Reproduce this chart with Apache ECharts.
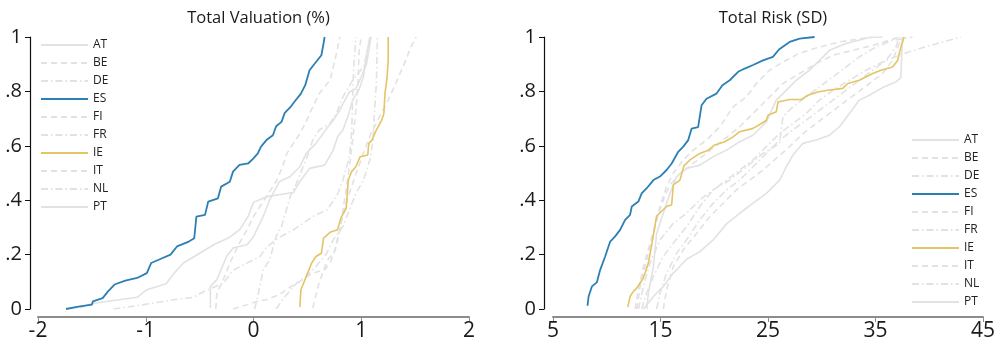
<!DOCTYPE html>
<html>
<head>
<meta charset="utf-8">
<script src="https://cdn.jsdelivr.net/npm/echarts@6/dist/echarts.min.js"></script>
<style>
  html, body { margin: 0; padding: 0; background: #fff; }
  #chart { width: 998px; height: 342px; }
</style>
</head>
<body>
<div id="chart"></div>
<script>
// Empirical distribution curves by country: [value, cumulative share]
const countries = ['AT', 'BE', 'DE', 'ES', 'FI', 'FR', 'IE', 'IT', 'NL', 'PT'];
const yTicks = [0, 0.2, 0.4, 0.6, 0.8, 1];
const valTicks = [-2, -1, 0, 1, 2];
const riskTicks = [5, 15, 25, 35, 45];

// Total valuation (%)
const valAT = [[-1.61,0.004],[-1.50,0.02],[-1.08,0.043],[-0.99,0.071],[-0.81,0.093],[-0.74,0.13],[-0.65,0.169],[-0.50,0.205],[-0.37,0.236],[-0.22,0.264],[-0.13,0.291],[-0.05,0.34],[0.00,0.392],[0.12,0.413],[0.37,0.428],[0.43,0.468],[0.52,0.517],[0.66,0.529],[0.74,0.584],[0.78,0.633],[0.83,0.658],[0.88,0.713],[0.92,0.768],[0.98,0.807],[1.02,0.853],[1.05,0.939],[1.08,1.0]];
const valBE = [[-0.35,0],[-0.34,0.059],[-0.28,0.108],[-0.22,0.169],[-0.13,0.242],[-0.06,0.291],[0.00,0.34],[0.06,0.377],[0.12,0.413],[0.21,0.468],[0.27,0.523],[0.31,0.572],[0.37,0.609],[0.43,0.645],[0.48,0.682],[0.55,0.743],[0.61,0.792],[0.71,0.841],[0.74,0.89],[0.77,0.939],[0.80,1.0]];
const valDE = [[-1.30,0],[-1.02,0.016],[-0.74,0.034],[-0.56,0.043],[-0.44,0.068],[-0.28,0.095],[-0.19,0.142],[-0.06,0.169],[0.06,0.193],[0.12,0.227],[0.24,0.264],[0.37,0.291],[0.46,0.315],[0.55,0.34],[0.68,0.364],[0.77,0.413],[0.83,0.474],[0.89,0.56],[0.91,0.645],[0.92,0.768],[0.93,0.89],[0.95,1.0]];
const valES = [[-1.74,0],[-1.61,0.01],[-1.50,0.016],[-1.49,0.028],[-1.40,0.04],[-1.35,0.065],[-1.29,0.09],[-1.19,0.104],[-1.08,0.114],[-0.99,0.132],[-0.95,0.169],[-0.88,0.181],[-0.77,0.2],[-0.71,0.23],[-0.60,0.248],[-0.55,0.26],[-0.53,0.34],[-0.45,0.346],[-0.42,0.395],[-0.33,0.407],[-0.30,0.45],[-0.22,0.468],[-0.19,0.505],[-0.13,0.53],[-0.05,0.535],[0.00,0.554],[0.04,0.572],[0.07,0.597],[0.12,0.621],[0.18,0.639],[0.21,0.672],[0.26,0.688],[0.29,0.721],[0.34,0.741],[0.38,0.762],[0.44,0.792],[0.48,0.823],[0.52,0.878],[0.58,0.908],[0.63,0.933],[0.65,0.976],[0.66,1.0]];
const valFI = [[-0.19,0],[-0.06,0.016],[0.03,0.028],[0.12,0.034],[0.24,0.053],[0.34,0.081],[0.43,0.101],[0.55,0.132],[0.66,0.144],[0.71,0.169],[0.77,0.23],[0.80,0.291],[0.83,0.364],[0.86,0.438],[0.89,0.523],[0.92,0.621],[0.95,0.731],[0.97,0.829],[0.98,0.951],[1.00,1.0]];
const valFR = [[0.01,0],[0.04,0.046],[0.09,0.144],[0.15,0.181],[0.21,0.267],[0.26,0.303],[0.34,0.413],[0.40,0.462],[0.46,0.523],[0.51,0.572],[0.55,0.621],[0.61,0.658],[0.71,0.682],[0.77,0.719],[0.83,0.78],[0.92,0.841],[1.02,0.89],[1.06,0.951],[1.09,1.0]];
const valIE = [[0.43,0.007],[0.44,0.071],[0.49,0.12],[0.54,0.169],[0.58,0.193],[0.63,0.205],[0.65,0.26],[0.71,0.282],[0.78,0.291],[0.81,0.334],[0.86,0.37],[0.88,0.474],[0.91,0.505],[0.95,0.523],[0.99,0.56],[1.06,0.566],[1.07,0.609],[1.10,0.621],[1.14,0.658],[1.19,0.694],[1.21,0.719],[1.22,0.792],[1.24,0.853],[1.25,0.914],[1.25,1.0]];
const valIT = [[0.55,0.004],[0.60,0.083],[0.65,0.144],[0.69,0.181],[0.75,0.211],[0.80,0.291],[0.85,0.377],[0.91,0.45],[0.97,0.517],[1.03,0.584],[1.09,0.645],[1.17,0.707],[1.25,0.768],[1.32,0.829],[1.40,0.902],[1.46,0.963],[1.51,1.0]];
const valNL = [[0.21,0],[0.27,0.034],[0.34,0.068],[0.40,0.095],[0.49,0.12],[0.58,0.156],[0.68,0.205],[0.74,0.254],[0.83,0.303],[0.89,0.364],[0.95,0.425],[1.02,0.474],[1.08,0.548],[1.11,0.621],[1.12,0.707],[1.14,0.829],[1.15,1.0]];
const valPT = [[-0.40,0.004],[-0.40,0.083],[-0.34,0.108],[-0.25,0.193],[-0.19,0.224],[-0.06,0.236],[0.00,0.266],[0.09,0.34],[0.15,0.401],[0.24,0.468],[0.34,0.487],[0.43,0.523],[0.49,0.572],[0.58,0.609],[0.68,0.664],[0.74,0.694],[0.80,0.731],[0.89,0.798],[0.95,0.81],[1.00,0.853],[1.05,0.902],[1.09,1.0]];

// Total risk (SD)
const riskAT = [[13.72,0],[13.87,0.059],[14.34,0.156],[14.64,0.278],[15.26,0.352],[15.88,0.425],[16.5,0.487],[17.43,0.517],[18.66,0.529],[19.9,0.56],[21.14,0.584],[22.37,0.615],[23.61,0.639],[24.85,0.688],[25.77,0.768],[26.7,0.804],[27.63,0.841],[28.86,0.878],[29.79,0.914],[30.72,0.951],[32.26,0.976],[34.43,0.998],[35.66,1.0]];
const riskBE = [[12.79,0],[13.1,0.083],[13.72,0.181],[14.34,0.278],[14.95,0.377],[15.57,0.45],[16.19,0.499],[17.12,0.548],[18.04,0.584],[19.28,0.621],[20.52,0.67],[21.75,0.743],[22.99,0.78],[23.92,0.829],[25.15,0.878],[26.39,0.908],[27.94,0.941],[29.79,0.963],[31.65,0.982],[34.74,1.0]];
const riskDE = [[13.25,0],[13.72,0.059],[14.34,0.12],[15.26,0.193],[16.19,0.242],[17.43,0.303],[18.66,0.377],[19.9,0.438],[21.14,0.474],[22.37,0.511],[23.61,0.548],[24.85,0.597],[26.08,0.645],[27.32,0.682],[28.55,0.719],[29.79,0.768],[31.03,0.804],[32.57,0.841],[34.12,0.878],[35.66,0.908],[37.21,0.933],[39.06,0.957],[40.92,0.978],[42.93,1.0]];
const riskES = [[8.21,0.012],[8.31,0.046],[8.62,0.083],[9.08,0.098],[9.39,0.144],[9.85,0.193],[10.32,0.248],[10.78,0.267],[11.24,0.291],[11.71,0.328],[12.17,0.346],[12.33,0.377],[12.94,0.395],[13.25,0.425],[13.72,0.444],[14.34,0.474],[14.95,0.487],[15.57,0.511],[16.04,0.535],[16.65,0.578],[17.12,0.597],[17.58,0.621],[17.89,0.663],[18.5,0.669],[18.82,0.749],[19.28,0.773],[20.21,0.792],[20.76,0.823],[21.44,0.841],[22.22,0.872],[22.84,0.884],[23.61,0.897],[24.54,0.914],[25.46,0.927],[26.02,0.954],[27.01,0.982],[27.94,0.994],[29.33,1.0]];
const riskFI = [[12.64,0],[12.95,0.071],[13.41,0.156],[14.03,0.242],[14.64,0.328],[15.26,0.401],[15.88,0.456],[16.81,0.499],[18.04,0.535],[19.28,0.572],[20.83,0.621],[22.37,0.67],[23.61,0.719],[24.85,0.768],[26.39,0.829],[27.94,0.866],[29.48,0.902],[31.03,0.933],[32.88,0.951],[34.74,0.969],[36.28,0.988],[37.21,1.0]];
const riskFR = [[14.64,0],[14.95,0.059],[15.57,0.132],[16.5,0.205],[17.43,0.254],[18.66,0.328],[19.9,0.389],[21.14,0.438],[22.37,0.474],[23.61,0.523],[24.85,0.572],[26.08,0.621],[27.32,0.658],[28.55,0.694],[29.79,0.731],[31.03,0.768],[32.26,0.804],[33.5,0.841],[34.74,0.878],[35.97,0.914],[36.9,0.963],[37.21,1.0]];
const riskIE = [[11.96,0.007],[12.17,0.046],[12.48,0.065],[12.79,0.077],[13.41,0.114],[13.87,0.169],[14.18,0.236],[14.64,0.342],[15.57,0.377],[16.04,0.383],[16.19,0.456],[16.81,0.474],[17.18,0.526],[17.74,0.548],[18.66,0.572],[19.44,0.584],[20.05,0.603],[20.98,0.615],[21.75,0.633],[22.37,0.652],[23.61,0.664],[24.38,0.682],[24.85,0.694],[25.0,0.712],[25.77,0.725],[25.93,0.761],[27.01,0.77],[28.09,0.77],[28.71,0.786],[29.64,0.798],[30.56,0.804],[31.95,0.811],[32.42,0.829],[33.5,0.841],[34.74,0.866],[35.51,0.878],[36.59,0.89],[37.06,0.914],[37.36,0.963],[37.67,1.0]];
const riskIT = [[15.26,0],[15.57,0.071],[16.19,0.156],[17.12,0.218],[18.35,0.278],[19.59,0.34],[20.83,0.389],[22.06,0.438],[23.3,0.474],[24.54,0.511],[25.77,0.554],[27.01,0.597],[28.25,0.645],[29.48,0.682],[30.72,0.719],[31.95,0.756],[33.19,0.792],[34.43,0.829],[35.66,0.866],[36.59,0.914],[37.21,0.976],[37.52,1.0]];
const riskNL = [[12.95,0],[13.41,0.083],[14.03,0.169],[14.95,0.254],[16.19,0.315],[17.43,0.352],[18.66,0.401],[19.9,0.438],[21.44,0.474],[22.99,0.523],[24.54,0.572],[26.08,0.609],[26.39,0.707],[27.32,0.743],[28.55,0.78],[29.79,0.817],[31.03,0.853],[32.26,0.89],[33.5,0.927],[35.04,0.963],[36.59,0.988],[38.45,1.0]];
const riskPT = [[13.41,0],[14.34,0.046],[15.26,0.083],[16.19,0.132],[17.43,0.183],[18.66,0.211],[19.9,0.254],[21.14,0.313],[22.37,0.352],[23.61,0.389],[24.85,0.425],[26.08,0.474],[26.7,0.523],[27.32,0.566],[28.25,0.609],[29.48,0.621],[30.72,0.639],[31.65,0.67],[32.57,0.719],[33.5,0.768],[34.43,0.786],[35.66,0.814],[36.9,0.835],[37.36,0.851],[37.46,0.951],[37.52,1.0]];

const valData = { AT: valAT, BE: valBE, DE: valDE, ES: valES, FI: valFI, FR: valFR, IE: valIE, IT: valIT, NL: valNL, PT: valPT };
const riskData = { AT: riskAT, BE: riskBE, DE: riskDE, ES: riskES, FI: riskFI, FR: riskFR, IE: riskIE, IT: riskIT, NL: riskNL, PT: riskPT };

const GREY = '#e2e2e2';
const DASH = [6, 4];
const DASHDOT = [7, 3, 1.5, 3];
const lineLook = {
  AT: { color: GREY, type: 'solid', width: 1.6 },
  BE: { color: GREY, type: DASH, width: 1.6 },
  DE: { color: GREY, type: DASHDOT, width: 1.6 },
  ES: { color: '#2b7fb4', type: 'solid', width: 1.8 },
  FI: { color: GREY, type: DASH, width: 1.6 },
  FR: { color: GREY, type: DASHDOT, width: 1.6 },
  IE: { color: '#e3c466', type: 'solid', width: 1.6 },
  IT: { color: GREY, type: DASH, width: 1.6 },
  NL: { color: GREY, type: DASHDOT, width: 1.6 },
  PT: { color: GREY, type: 'solid', width: 1.6 }
};

const FONT = '"Open Sans", "Noto Sans", sans-serif';

function makeSeries(dataMap, axisIndex) {
  return countries.map(c => ({
    name: c,
    type: 'line',
    xAxisIndex: axisIndex,
    yAxisIndex: axisIndex,
    data: dataMap[c],
    symbol: 'none',
    z: (c === 'ES' || c === 'IE') ? 4 : 2,
    color: lineLook[c].color,
    lineStyle: { color: lineLook[c].color, type: lineLook[c].type, width: lineLook[c].width },
    emphasis: { disabled: true }
  }));
}

function xAxisFor(ticks, gridIndex) {
  return {
    type: 'value', gridIndex,
    min: ticks[0], max: ticks[ticks.length - 1], interval: ticks[1] - ticks[0],
    offset: 8,
    axisLine: { onZero: false, lineStyle: { color: '#8c8c8c', width: 2 } },
    axisTick: { length: 5, lineStyle: { color: '#8c8c8c', width: 1 } },
    axisLabel: { fontFamily: FONT, fontSize: 21, color: '#1a1a1a', margin: 4 },
    splitLine: { show: false }
  };
}

function yAxisFor(gridIndex, offset) {
  return {
    type: 'value', gridIndex,
    min: yTicks[0], max: yTicks[yTicks.length - 1], interval: yTicks[1] - yTicks[0],
    offset,
    axisLine: { show: true, onZero: false, lineStyle: { color: '#111', width: 1.2 } },
    axisTick: { show: true, length: 5, lineStyle: { color: '#111', width: 1 } },
    axisLabel: {
      fontFamily: FONT, fontSize: 20, color: '#1a1a1a', margin: 8,
      formatter: v => (v === 0 ? '0' : v === 1 ? '1' : String(Math.round(v * 10) / 10).replace(/^0/, ''))
    },
    splitLine: { show: false }
  };
}

const legendBase = {
  orient: 'vertical',
  data: countries,
  itemWidth: 47,
  itemHeight: 10,
  itemGap: 6,
  itemTextGap: 8,
  // line only, no marker dot on the key
  itemStyle: { opacity: 0 },
  textStyle: { fontFamily: FONT, fontSize: 12, color: '#222' },
  selectedMode: false,
  padding: 0
};

const chart = echarts.init(document.getElementById('chart'), null, { renderer: 'canvas' });
chart.setOption({
  animation: false,
  backgroundColor: '#fff',
  title: [
    { text: 'Total Valuation (%)', left: 253.5, top: 5, textAlign: 'center',
      textStyle: { fontFamily: FONT, fontSize: 16.5, fontWeight: 'normal', color: '#1a1a1a' } },
    { text: 'Total Risk (SD)', left: 768, top: 5, textAlign: 'center',
      textStyle: { fontFamily: FONT, fontSize: 16.5, fontWeight: 'normal', color: '#1a1a1a' } }
  ],
  grid: [
    { left: 38, top: 37, width: 431, height: 272 },
    { left: 553, top: 37, width: 431, height: 272 }
  ],
  xAxis: [xAxisFor(valTicks, 0), xAxisFor(riskTicks, 1)],
  yAxis: [yAxisFor(0, 8), yAxisFor(1, 9)],
  legend: [
    Object.assign({}, legendBase, { left: 40, top: 39 }),
    Object.assign({}, legendBase, { left: 911, top: 134 })
  ],
  series: makeSeries(valData, 0).concat(makeSeries(riskData, 1))
});
</script>
</body>
</html>
